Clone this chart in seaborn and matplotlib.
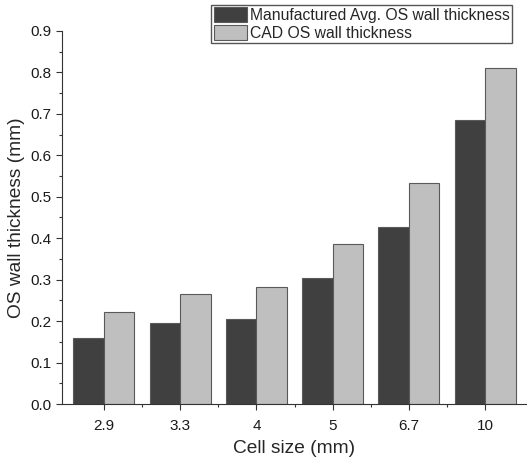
import numpy as np
import pandas as pd
import matplotlib
matplotlib.use('Agg')
import matplotlib.pyplot as plt
import seaborn as sns
from matplotlib.ticker import MultipleLocator, FixedLocator

cell_sizes = ['2.9', '3.3', '4', '5', '6.7', '10']
manufactured = [0.160, 0.195, 0.204, 0.305, 0.428, 0.685]
cad = [0.221, 0.265, 0.283, 0.386, 0.533, 0.810]
series_names = ['Manufactured Avg. OS wall thickness', 'CAD OS wall thickness']

df = pd.DataFrame({
    'Cell size': cell_sizes * 2,
    'Thickness': manufactured + cad,
    'Series': [series_names[0]] * len(cell_sizes) + [series_names[1]] * len(cell_sizes),
})

sns.set_style('ticks')
plt.rcParams['font.family'] = ['Liberation Sans', 'DejaVu Sans']

fig = plt.figure(figsize=(5.27, 4.65), dpi=100)
ax = fig.add_axes([62 / 527, 61 / 465, 1 - 62 / 527, 373 / 465])

sns.barplot(data=df, x='Cell size', y='Thickness', hue='Series', order=cell_sizes,
            palette=['#404040', '#bfbfbf'], edgecolor='#5a5a5a', linewidth=0.8,
            width=0.8, saturation=1, ax=ax)

ax.set_xlim(-0.55, len(cell_sizes) - 0.45)
ax.set_ylim(0, 0.9)
ax.yaxis.set_major_locator(MultipleLocator(0.1))
ax.yaxis.set_minor_locator(MultipleLocator(0.05))
ax.xaxis.set_minor_locator(FixedLocator(np.arange(len(cell_sizes) - 1) + 0.5))
ax.yaxis.set_major_formatter(plt.FuncFormatter(lambda v, p: f'{v:.1f}'))
ax.tick_params(which='major', length=4.5, width=0.8, color='#333333',
               labelsize=11, labelcolor='#1a1a1a')
ax.tick_params(which='minor', length=2.5, width=0.8, color='#333333')
ax.tick_params(axis='x', pad=6)
ax.tick_params(axis='y', pad=3)
sns.despine(ax=ax, top=True, right=True)
ax.spines['left'].set_color('#333333')
ax.spines['bottom'].set_color('#333333')

ax.set_xlabel('Cell size (mm)', fontsize=13.8, labelpad=5)
ax.set_ylabel('OS wall thickness (mm)', fontsize=13.8, labelpad=4)

ax.legend(loc='upper right', bbox_to_anchor=(512 / 527, 460 / 465),
          bbox_transform=fig.transFigure, borderaxespad=0, fontsize=11.3,
          frameon=True, fancybox=False, edgecolor='#555555', framealpha=1,
          handlelength=2.1, handleheight=1.1, handletextpad=0.2,
          labelspacing=0.1, borderpad=0.15, title=None)

fig.savefig('out.png', dpi=100)
